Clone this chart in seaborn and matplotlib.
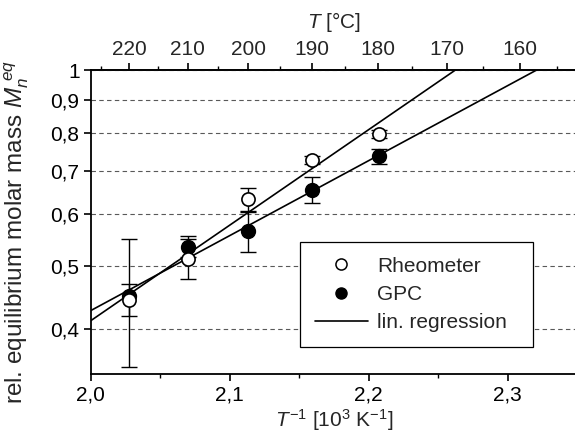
import numpy as np
import pandas as pd
import matplotlib
matplotlib.use("Agg")
import matplotlib.pyplot as plt
import seaborn as sns
from matplotlib.ticker import FixedLocator, FuncFormatter, NullLocator
from matplotlib.lines import Line2D

# ---- data ----
inv_T = [2.0278, 2.0698, 2.1135, 2.1591, 2.2076]          # 1/T [10^3 K^-1]
rheo = [0.443, 0.513, 0.633, 0.727, 0.799]
rheo_err = [0.025, 0.036, 0.025, 0.010, 0.012]
gpc = [0.449, 0.535, 0.565, 0.655, 0.738]
gpc_err = [0.100, 0.020, 0.040, 0.030, 0.020]

y_ticks = [0.4, 0.5, 0.6, 0.7, 0.8, 0.9, 1.0]
bottom_ticks = [2.0, 2.1, 2.2, 2.3]
bottom_minor = [2.05, 2.15, 2.25]
top_ticks_C = [160, 170, 180, 190, 200, 210, 220]
top_minor_C = [155, 165, 175, 185, 195, 205, 215, 225]

sns.set_style("ticks")
plt.rcParams['font.family'] = ['Liberation Sans', 'DejaVu Sans']
plt.rcParams['mathtext.fontset'] = 'custom'
plt.rcParams['mathtext.rm'] = 'Liberation Sans'
plt.rcParams['mathtext.it'] = 'Liberation Sans:italic'
plt.rcParams['mathtext.bf'] = 'Liberation Sans:bold'

FS = 15

fig = plt.figure(figsize=(5.75, 4.33), dpi=100)
ax = fig.add_axes([0.1577, 0.1363, 0.846, 0.7009])
ax.set_yscale('log')
ax.set_xlim(2.0, 2.35)
ax.set_ylim(0.3405, 1.0)

df = pd.DataFrame({'x': inv_T, 'rheo': rheo, 'gpc': gpc})

# regression lines (fit of log10(M) vs 1/T)
xs = np.array([2.0, 2.35])
for col in ['rheo', 'gpc']:
    p = np.polyfit(df['x'], np.log10(df[col]), 1)
    line_df = pd.DataFrame({'x': xs, 'y': 10 ** np.polyval(p, xs)})
    sns.lineplot(data=line_df, x='x', y='y', ax=ax, color='black', lw=1.2, zorder=2)

# error bars
ax.errorbar(inv_T, rheo, yerr=rheo_err, fmt='none', ecolor='black',
            elinewidth=1.0, capsize=6, capthick=1.0, zorder=2.5)
ax.errorbar(inv_T, gpc, yerr=gpc_err, fmt='none', ecolor='black',
            elinewidth=1.0, capsize=6, capthick=1.0, zorder=2.5)

# markers
sns.scatterplot(data=df, x='x', y='gpc', ax=ax, color='black', edgecolor='black',
                s=100, linewidth=1.0, zorder=3)
sns.scatterplot(data=df, x='x', y='rheo', ax=ax, color='white', edgecolor='black',
                s=90, linewidth=1.2, zorder=3.5)

# axes styling
for s in ['left', 'bottom', 'top']:
    ax.spines[s].set_linewidth(1.3)
    ax.spines[s].set_color('black')
ax.spines['right'].set_visible(False)

ax.yaxis.set_major_locator(FixedLocator(y_ticks))
ax.yaxis.set_minor_locator(NullLocator())
ax.yaxis.set_major_formatter(FuncFormatter(
    lambda v, pos: '1' if abs(v - 1) < 1e-9 else f'{v:.1f}'.replace('.', ',')))
ax.xaxis.set_major_locator(FixedLocator(bottom_ticks))
ax.xaxis.set_minor_locator(FixedLocator(bottom_minor))
ax.xaxis.set_major_formatter(FuncFormatter(lambda v, pos: f'{v:.1f}'.replace('.', ',')))

ax.tick_params(axis='both', which='major', direction='out', length=5, width=1.2,
               labelsize=FS, color='black', labelcolor='black', pad=3)
ax.tick_params(axis='x', which='minor', direction='out', length=3, width=1.0, color='black')
ax.tick_params(top=False, right=False)

ax.grid(axis='y', which='major', linestyle=(0, (4, 3)), color='0.35', lw=0.8)
ax.set_axisbelow(True)

ax.set_xlabel(r'$T^{-1}$ [10$^3$ K$^{-1}$]', fontsize=FS, labelpad=2)
ax.set_ylabel(r'rel. equilibrium molar mass $M_n^{\ eq}$', fontsize=17.5)
ax.yaxis.set_label_coords(-0.122, 0.468)


def fwd(x):
    x = np.asarray(x, dtype=float)
    with np.errstate(divide='ignore', invalid='ignore'):
        return 1000.0 / x - 273.15


def inv(t):
    t = np.asarray(t, dtype=float)
    with np.errstate(divide='ignore', invalid='ignore'):
        return 1000.0 / (t + 273.15)


sec = ax.secondary_xaxis('top', functions=(fwd, inv))
sec.xaxis.set_major_locator(FixedLocator(top_ticks_C))
sec.xaxis.set_minor_locator(FixedLocator(top_minor_C))
sec.xaxis.set_major_formatter(FuncFormatter(lambda v, pos: f'{v:.0f}'))
sec.tick_params(axis='x', which='major', direction='out', length=5, width=1.2,
                labelsize=FS, color='black', pad=3)
sec.tick_params(axis='x', which='minor', direction='out', length=3, width=1.0, color='black')
sec.spines['top'].set_linewidth(1.3)
sec.set_xlabel(r'$T$ [°C]', fontsize=FS, labelpad=9)

handles = [
    Line2D([], [], ls='none', marker='o', mfc='white', mec='black', ms=8, mew=1.1),
    Line2D([], [], ls='none', marker='o', mfc='black', mec='black', ms=8),
    Line2D([], [], color='black', lw=1.2),
]
leg = ax.legend(handles, ['Rheometer', 'GPC', 'lin. regression'],
                loc='lower left', bbox_to_anchor=(0.4302, 0.089, 0.479, 0.336),
                mode='expand',
                fontsize=FS, frameon=True, fancybox=False, framealpha=1,
                edgecolor='black', handlelength=2.55, handletextpad=0.45,
                labelspacing=0.45, borderpad=0.7, borderaxespad=0)
leg.get_frame().set_linewidth(0.9)

fig.savefig('out.png', dpi=100)
